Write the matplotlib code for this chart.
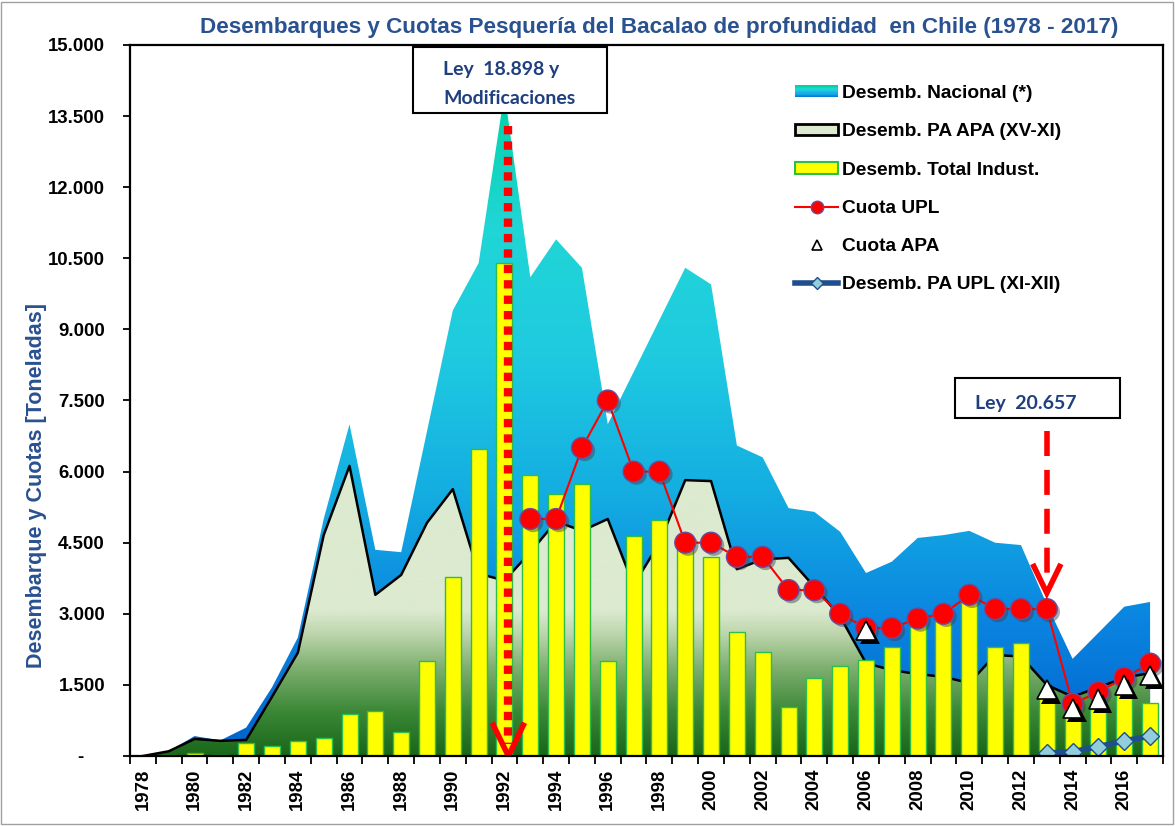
import numpy as np
import matplotlib
matplotlib.use('Agg')
import matplotlib.pyplot as plt
import matplotlib.patheffects as pe
from matplotlib.colors import LinearSegmentedColormap
from matplotlib.lines import Line2D
from matplotlib.patches import Patch, Rectangle
from matplotlib.legend_handler import HandlerBase

plt.rcParams['font.family'] = ['Liberation Sans', 'DejaVu Sans']
plt.rcParams['font.weight'] = 'bold'

# data (toneladas)
years = list(range(1978, 2018))
nacional = [0, 100, 420, 330, 600, 1450, 2500, 5000, 7000, 4350,
            4300, 6850, 9400, 10400, 14000, 10100, 10900, 10300, 7000, 8100,
            9200, 10300, 9950, 6550, 6300, 5230, 5150, 4730, 3860, 4100,
            4600, 4660, 4750, 4500, 4450, 3200, 2050, 2600, 3150, 3250]
pa_apa = [0, 100, 360, 320, 340, 1250, 2180, 4660, 6120, 3400,
          3820, 4920, 5630, 3850, 3700, 4300, 4950, 4750, 5000, 3600,
          4500, 5820, 5800, 3940, 4150, 4180, 3570, 2940, 1960, 1810,
          1730, 1670, 1540, 2130, 2100, 1500, 1250, 1450, 1650, 1750]
industrial = [10, 30, 70, 30, 280, 220, 320, 390, 880, 950,
              500, 2010, 3780, 6470, 10400, 5930, 5520, 5730, 2010, 4640,
              4980, 4500, 4190, 2620, 2190, 1030, 1650, 1900, 2030, 2310,
              2800, 2900, 3260, 2290, 2380, 1250, 850, 1000, 1350, 1110]
cuota_upl_years = list(range(1993, 2018))
cuota_upl = [5000, 5000, 6500, 7500, 6000, 6000, 4500, 4500, 4200, 4200,
             3500, 3500, 3000, 2700, 2700, 2900, 3000, 3400, 3100, 3100,
             3100, 1100, 1350, 1650, 1950]
cuota_apa_years = [2006, 2013, 2014, 2015, 2016, 2017]
cuota_apa = [2650, 1400, 1000, 1200, 1500, 1700]
pa_upl_years = [2013, 2014, 2015, 2016, 2017]
pa_upl = [60, 90, 200, 320, 420]

yticks = list(range(0, 15001, 1500))
ytick_labels = ['-    ', '1.500', '3.000', '4.500', '6.000', '7.500', '9.000',
                '10.500', '12.000', '13.500', '15.000']
xlabel_years = years[::2]

title = 'Desembarques y Cuotas Pesquería del Bacalao de profundidad  en Chile (1978 - 2017)'
navy = '#2A5190'
box_blue = '#1F3F7F'

cmap_nac = LinearSegmentedColormap.from_list('nac', [
    (0.0, '#0062CC'), (0.2, '#0A84E0'), (0.4, '#14AEE2'),
    (0.6, '#1FCAE0'), (0.8, '#20D6D6'), (1.0, '#02D2A6')])
cmap_apa = LinearSegmentedColormap.from_list('apa', [
    (0.0, '#1A661A'), (0.15, '#3A8736'), (0.3, '#7DAE6E'),
    (0.42, '#BDD6AD'), (0.5, '#DCEACF'), (1.0, '#DCEACF')])

idx = np.arange(len(years))


def gradient_fill(ax, x, y, cmap, zorder):
    poly = ax.fill_between(x, 0, y, facecolor='none', edgecolor='none', zorder=zorder)
    img = ax.imshow(np.linspace(0, 1, 256).reshape(-1, 1), cmap=cmap, aspect='auto',
                    origin='lower', extent=[x[0], x[-1], 0, max(y)], zorder=zorder)
    img.set_clip_path(poly.get_paths()[0], transform=ax.transData)


def px(x, y):
    # figure pixel (from top-left) -> axes fraction
    return (x - 130) / 1033, (756 - y) / 711


fig = plt.figure(figsize=(11.75, 8.26), dpi=100)
fig.patches.append(Rectangle((0.001, 0.002), 0.997, 0.995, transform=fig.transFigure,
                             fill=False, edgecolor='#A0A0A0', lw=1))
ax = fig.add_axes([130 / 1175, 70 / 826, 1033 / 1175, 711 / 826])

gradient_fill(ax, idx, nacional, cmap_nac, 1)
gradient_fill(ax, idx, pa_apa, cmap_apa, 2)
ax.plot(idx, pa_apa, color='black', lw=1.8, zorder=3)

ax.bar(idx, industrial, width=0.62, color='#FFFF00', edgecolor='#2DBE4A', lw=1, zorder=4)

upl_x = [years.index(y) for y in cuota_upl_years]
ax.plot(upl_x, cuota_upl, color='red', lw=1.5, zorder=5)
ax.plot(upl_x, cuota_upl, ls='none', marker='o', ms=15, mfc='red', mec='#6A4C9C', mew=1,
        zorder=6, path_effects=[pe.SimplePatchShadow(offset=(2, -2), shadow_rgbFace='#404040', alpha=0.45),
                                pe.Normal()])

apa_x = [years.index(y) for y in cuota_apa_years]
ax.plot(apa_x, cuota_apa, ls='none', marker='^', ms=14, mfc='white', mec='black', mew=1.2,
        zorder=7, path_effects=[pe.SimplePatchShadow(offset=(3, -3), shadow_rgbFace='black', alpha=1),
                                pe.Normal()])

pa_x = [years.index(y) for y in pa_upl_years]
ax.plot(pa_x, pa_upl, color='#1F4E8C', lw=4, marker='D', ms=9, mfc='#92CDDC', mec='#1F4E8C',
        mew=1, zorder=7)

# arrows
xa = years.index(1992) + 0.15
ax.plot([xa, xa], [13300, 250], color='red', lw=6, ls=(0, (1, 0.85)),
        dash_capstyle='butt', zorder=9)
ax.plot([xa - 0.58, xa, xa + 0.58], [650, 0, 650], color='red', lw=4,
        solid_joinstyle='miter', zorder=9)
xb = years.index(2013)
ax.plot([xb, xb], [6850, 3550], color='red', lw=4, ls=(0, (4.5, 2.5)), zorder=9)
ax.plot([xb - 0.5, xb, xb + 0.5], [4000, 3440, 4000], color='red', lw=4,
        solid_joinstyle='miter', zorder=9)

# text boxes
ax.add_patch(Rectangle(px(413, 113), 194 / 1033, 66 / 711, transform=ax.transAxes,
                       facecolor='white', edgecolor='black', lw=1.5, zorder=8))
ax.text(*px(443, 70), 'Ley  18.898 y', transform=ax.transAxes,
        family=['Lato', 'DejaVu Sans'], fontsize=14, fontweight='bold', color=box_blue,
        va='center', zorder=11)
ax.text(*px(443, 98), 'Modificaciones', transform=ax.transAxes,
        family=['Lato', 'DejaVu Sans'], fontsize=14, fontweight='bold', color=box_blue,
        va='center', zorder=11)
ax.add_patch(Rectangle(px(955, 418), 165 / 1033, 40 / 711, transform=ax.transAxes,
                       facecolor='white', edgecolor='black', lw=1.5, zorder=10))
ax.text(*px(975, 404), 'Ley  20.657', transform=ax.transAxes,
        family=['Lato', 'DejaVu Sans'], fontsize=14, fontweight='bold', color=box_blue,
        va='center', zorder=11)

# axes
ax.set_xlim(-0.5, len(years) - 0.5)
ax.set_ylim(0, 15000)
ax.set_yticks(yticks)
ax.set_yticklabels(ytick_labels)
ax.set_xticks(np.arange(-0.5, len(years), 1))
ax.set_xticklabels([])
ax.set_xticks([years.index(y) for y in xlabel_years], minor=True)
ax.set_xticklabels([str(y) for y in xlabel_years], minor=True, rotation=90)
ax.tick_params(axis='x', which='major', direction='out', length=6, width=1.3)
ax.tick_params(axis='x', which='minor', length=0, pad=9, labelsize=13.4)
ax.tick_params(axis='y', direction='out', length=5, width=1.3, pad=13, labelsize=13.4)
for s in ax.spines.values():
    s.set_linewidth(1.6)
    s.set_zorder(12)

fig.text(659 / 1175, 1 - 28 / 826, title, ha='center', va='center', fontsize=16.2,
         fontweight='bold', color=navy)
fig.text(37 / 1175, 1 - 486 / 826, 'Desembarque y Cuotas [Toneladas]', rotation=90,
         ha='center', va='center', fontsize=15.5, fontweight='bold', color=navy)


# legend
class GradientHandler(HandlerBase):
    def create_artists(self, legend, orig_handle, xdescent, ydescent, width, height, fontsize, trans):
        n = 10
        out = []
        for k in range(n):
            out.append(Rectangle((-xdescent, -ydescent + height * k / n), width, height / n,
                                 facecolor=cmap_nac(0.15 + 0.85 * k / (n - 1)), edgecolor='none',
                                 transform=trans))
        return out


handles = [
    Patch(),
    Patch(facecolor='#DCEACF', edgecolor='black', lw=2),
    Patch(facecolor='#FFFF00', edgecolor='#2DBE4A', lw=1.5),
    Line2D([], [], color='red', lw=1.5, marker='o', ms=9, mfc='red', mec='#6A4C9C'),
    Line2D([], [], ls='none', marker='^', ms=7, mfc='white', mec='black', mew=1.2),
    Line2D([], [], color='#1F4E8C', lw=4, marker='D', ms=6, mfc='#92CDDC', mec='#1F4E8C'),
]
labels = ['Desemb. Nacional (*)', 'Desemb. PA APA (XV-XI)', 'Desemb. Total Indust.',
          'Cuota UPL', 'Cuota APA', 'Desemb. PA UPL (XI-XII)']
leg = fig.legend(handles, labels, loc='upper left', bbox_to_anchor=(795 / 1175, 1 - 85 / 826),
                 frameon=False, prop={'size': 13.8, 'weight': 'bold'}, handlelength=2.25,
                 handleheight=0.55, handletextpad=0.22, labelspacing=1.11, borderpad=0,
                 borderaxespad=0, handler_map={handles[0]: GradientHandler()})
leg.set_zorder(20)

fig.savefig('out.png', dpi=100)
